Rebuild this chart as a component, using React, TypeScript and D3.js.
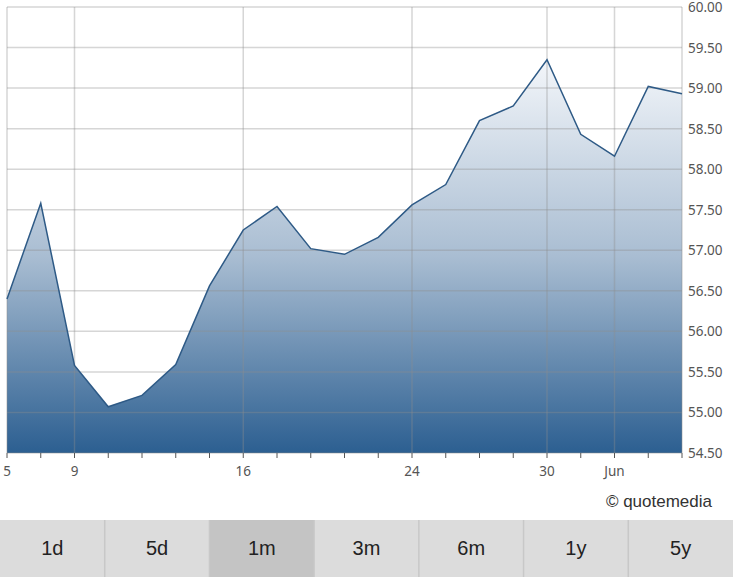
import React from "react";
import * as d3 from "d3";

const dayLabels = ["5", "8", "9", "10", "11", "12", "13", "16", "17", "18", "19", "20", "24", "25", "26", "27", "30", "31", "Jun", "2", "3"];
const prices = [56.4, 57.58, 55.58, 55.07, 55.21, 55.59, 56.56, 57.25, 57.54, 57.02, 56.95, 57.16, 57.56, 57.81, 58.6, 58.78, 59.35, 58.43, 58.16, 59.02, 58.93];
const majorTickIdx = [0, 2, 7, 12, 16, 18];
const majorTickText = ["5", "9", "16", "24", "30", "Jun"];
const yTicks = [54.5, 55, 55.5, 56, 56.5, 57, 57.5, 58, 58.5, 59, 59.5, 60];
const buttons = ["1d", "5d", "1m", "3m", "6m", "1y", "5y"];
const selectedButton = "1m";

export default function App() {
  const W = 739, H = 583;
  const left = 7, right = 682, top = 7, bottom = 453;
  const x = d3.scaleLinear().domain([0, prices.length - 1]).range([left, right]);
  const y = d3.scaleLinear().domain([54.5, 60]).range([bottom, top]);
  const idx = d3.range(prices.length);
  const line = d3.line<number>().x((i) => x(i)).y((i) => y(prices[i]));
  const area = d3.area<number>().x((i) => x(i)).y0(bottom).y1((i) => y(prices[i]));
  const bx = d3.scaleBand<string>().domain(buttons).range([0, 733]).padding(0);
  const axisFont = "'Noto Sans', 'DejaVu Sans', sans-serif";
  const gridStroke = "#8c8c8c";
  const gridOpacity = 0.36;

  return (
    <div style={{ position: "absolute", left: 0, top: 0 }}>
      <svg width={W} height={H} style={{ display: "block" }}>
        <rect x={0} y={0} width={W} height={H} fill="#ffffff" />
        <defs>
          <linearGradient id="fillGrad" gradientUnits="userSpaceOnUse" x1={0} y1={y(d3.max(prices)!)} x2={0} y2={bottom}>
            <stop offset="0" stopColor="#f3f6fa" />
            <stop offset="0.5" stopColor="#a9bdd2" />
            <stop offset="1" stopColor="#2c5f91" />
          </linearGradient>
        </defs>
        <path d={area(idx)!} fill="url(#fillGrad)" />
        {yTicks.map((t) => (
          <line key={"h" + t} x1={left} x2={right} y1={y(t)} y2={y(t)} stroke={gridStroke} strokeOpacity={gridOpacity} strokeWidth={1.5} />
        ))}
        {majorTickIdx.map((i) => (
          <line key={"v" + i} x1={x(i)} x2={x(i)} y1={top} y2={bottom} stroke={gridStroke} strokeOpacity={gridOpacity} strokeWidth={1.5} />
        ))}
        <line x1={right} x2={right} y1={top} y2={bottom} stroke={gridStroke} strokeOpacity={gridOpacity} strokeWidth={1.5} />
        <path d={line(idx)!} fill="none" stroke="#2e5a86" strokeWidth={1.5} />
        {idx.map((i) => (
          <line key={"t" + i} x1={x(i)} x2={x(i)} y1={bottom} y2={bottom + 5} stroke="#555" strokeWidth={1} />
        ))}
        {majorTickIdx.map((i, k) => (
          <text key={"xl" + i} x={x(i)} y={476} textAnchor="middle" fontFamily={axisFont} fontSize={13.5} fill="#555">
            {majorTickText[k]}
          </text>
        ))}
        {yTicks.map((t) => (
          <text key={"yl" + t} x={688} y={y(t) + 5} fontFamily={axisFont} fontSize={13.5} fill="#555">
            {t.toFixed(2)}
          </text>
        ))}
        <text x={712} y={507} textAnchor="end" fontFamily="'Liberation Sans', Arial, sans-serif" fontSize={17} fill="#333">
          © quotemedia
        </text>
        {buttons.map((b) => (
          <g key={b}>
            <rect x={bx(b)!} y={520} width={bx.bandwidth()} height={57} fill={b === selectedButton ? "#c4c4c4" : "#dcdcdc"} />
            <text x={bx(b)! + bx.bandwidth() / 2} y={555} textAnchor="middle" fontFamily="'Liberation Sans', Arial, sans-serif" fontSize={20} fill="#222">
              {b}
            </text>
          </g>
        ))}
        {buttons.slice(1).map((b) => (
          <line key={"s" + b} x1={bx(b)!} x2={bx(b)!} y1={520} y2={577} stroke="#c8c8c8" strokeWidth={1.5} />
        ))}
      </svg>
    </div>
  );
}
